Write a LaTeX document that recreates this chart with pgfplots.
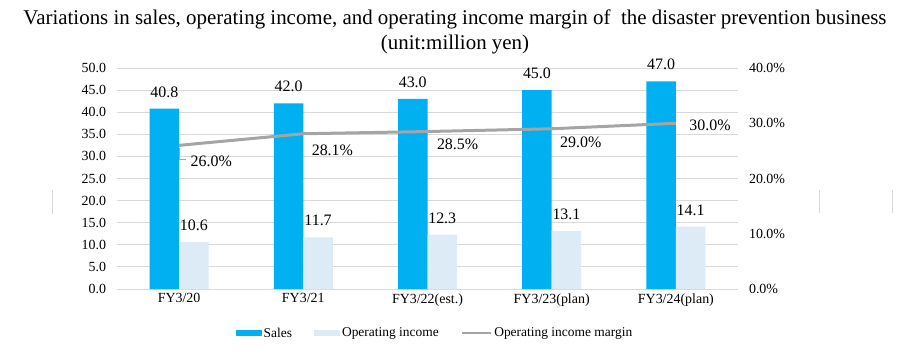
\documentclass[border=0pt]{standalone}
\usepackage{pgfplots}
\pgfplotsset{compat=1.18}
\usepackage{pgfplotstable}
\usepackage{fontspec}
\setmainfont{Liberation Serif}
\definecolor{sales}{HTML}{00B0F0}
\definecolor{opinc}{HTML}{DDEBF7}
\definecolor{marg}{HTML}{A5A5A5}
\definecolor{gridc}{HTML}{D9D9D9}

\pgfplotstableread{
x y
0 40.8
1 42.0
2 43.0
3 45.0
4 47.0
}\sales
\pgfplotstableread{
x y
0 10.6
1 11.7
2 12.3
3 13.1
4 14.1
}\opinc
\pgfplotstableread{
x y dx dy
0 26.0 10 -16
1 28.1 7 -17
2 28.5 8 -13
3 29.0 7 -14
4 30.0 12 -2
}\margin

\begin{document}
\begin{tikzpicture}[x=1bp,y=1bp]
\useasboundingbox (0,0) rectangle (915,350);
\node[align=center, font=\fontsize{21}{25}\selectfont] at (455,318.5)
  {Variations in sales, operating income, and operating income margin of\ \ the disaster prevention business\\(unit:million yen)};
\draw[gridc, line width=1bp] (52,136) -- (52,160);
\draw[gridc, line width=1bp] (819,137) -- (819,160);
\draw[gridc, line width=1bp] (892,137) -- (892,160);

\begin{axis}[
  at={(117bp,61bp)}, anchor=south west, scale only axis,
  width=621bp, height=221bp,
  xmin=-0.5, xmax=4.5, ymin=0, ymax=50,
  ybar=0pt, bar width=29.5bp,
  ytick={0,5,...,50},
  yticklabel={\pgfmathprintnumber{\tick}},
  xtick={0,1,2,3,4},
  xticklabels={FY3/20,FY3/21,FY3/22(est.),FY3/23(plan),FY3/24(plan)},
  ymajorgrids, grid style={draw=gridc, line width=0.9bp},
  axis line style={draw=none},
  major tick length=0pt,
  tick style={draw=none},
  ticklabel style={font=\fontsize{14}{16}\selectfont},
  yticklabel style={xshift=-7.5bp},
  xticklabel style={yshift=-1bp},
  /pgf/number format/fixed,
  /pgf/number format/fixed zerofill,
  /pgf/number format/precision=1,
  /pgf/number format/assume math mode=true,
  clip=false,
  nodes near coords,
  every node near coord/.append style={font=\fontsize{16}{18}\selectfont, black, inner sep=0pt, yshift=11bp},
]
\addplot[fill=sales, draw=none] table[x=x,y=y] {\sales};
\addplot[fill=opinc, draw=none] table[x=x,y=y] {\opinc};
\end{axis}

\begin{axis}[
  at={(117bp,61bp)}, anchor=south west, scale only axis,
  width=621bp, height=221bp,
  xmin=-0.5, xmax=4.5, ymin=0, ymax=40,
  ytick={0,10,...,40},
  axis y line*=right,
  hide x axis,
  axis line style={draw=none},
  major tick length=0pt,
  tick style={draw=none},
  ticklabel style={font=\fontsize{14}{16}\selectfont},
  yticklabel={\pgfmathprintnumber{\tick}\%},
  yticklabel style={xshift=7.5bp},
  /pgf/number format/fixed,
  /pgf/number format/fixed zerofill,
  /pgf/number format/precision=1,
  /pgf/number format/assume math mode=true,
  clip=false,
  legend columns=3,
  legend style={at={(0.512,-0.2)}, anchor=center, draw=none, fill=none,
    font=\fontsize{13.5}{15}\selectfont,
    /tikz/every even column/.append style={column sep=20bp},
    /tikz/every odd column/.append style={column sep=0bp},
    nodes={inner sep=2bp}},
  legend image code/.code={\fill[#1, draw=none] (0bp,-3bp) rectangle (26bp,3bp);},
]
\addlegendimage{fill=sales, draw=none}
\addlegendentry{Sales}
\addlegendimage{fill=opinc, draw=none}
\addlegendentry{Operating income}
\addplot[marg, line width=3bp,
  legend image code/.code={\draw[marg, line width=2.5bp] (0bp,0bp) -- (29bp,0bp);},
  visualization depends on={\thisrow{dx}\as\mydx},
  visualization depends on={\thisrow{dy}\as\mydy},
  nodes near coords={\pgfmathprintnumber{\pgfplotspointmeta}\%},
  every node near coord/.append style={font=\fontsize{16}{18}\selectfont, black, anchor=west, inner sep=0pt, xshift=\mydx bp, yshift=\mydy bp},
] table[x=x,y=y] {\margin};
\addlegendentry{Operating income margin}
\draw[marg, line width=0.8bp] ([yshift=-3bp]axis cs:0,26) -- ([yshift=-14bp]axis cs:0,26) -- ([xshift=7bp,yshift=-14bp]axis cs:0,26);
\end{axis}
\end{tikzpicture}
\end{document}
